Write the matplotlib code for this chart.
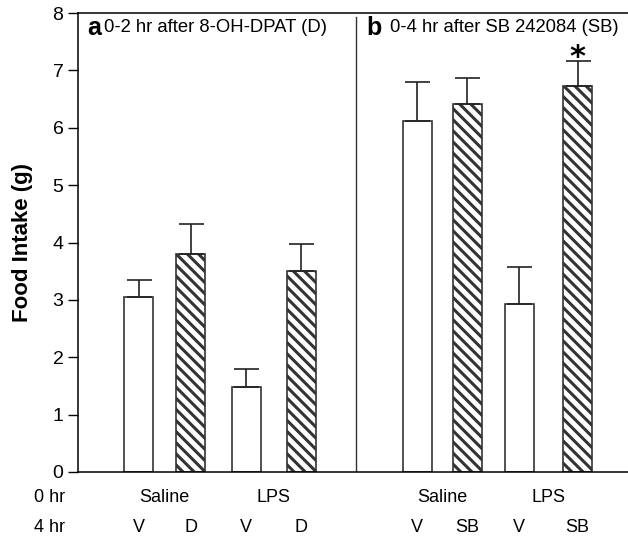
import matplotlib
matplotlib.use("Agg")
import matplotlib.pyplot as plt
import numpy as np

plt.rcParams['font.family'] = ['Liberation Sans', 'DejaVu Sans']
plt.rcParams['hatch.linewidth'] = 2.2
plt.rcParams['hatch.color'] = 'black'

# ---- data ----
panel_a_means = [3.05, 3.80, 1.49, 3.51]
panel_a_sems = [0.30, 0.53, 0.30, 0.46]
panel_b_means = [6.12, 6.42, 2.92, 6.72]
panel_b_sems = [0.68, 0.45, 0.66, 0.44]
treat_a = ['V', 'D', 'V', 'D']
treat_b = ['V', 'SB', 'V', 'SB']
hatched = [False, True, False, True]
groups = ['Saline', 'LPS']
yticks = [0, 1, 2, 3, 4, 5, 6, 7, 8]

W, H = 628, 544
fig = plt.figure(figsize=(W / 100, H / 100), dpi=100)
ax = fig.add_axes([78 / W, (H - 472) / H, 1 - 78 / W, (472 - 13) / H])

# layout (x in axis units ~ pixels from left spine)
pos_a = np.array([138.5, 190.5, 246, 301]) - 78
pos_b = np.array([417, 467, 519, 577.5]) - 78
width = 29
divider = 356 - 78

for pos, means, sems in [(pos_a, panel_a_means, panel_a_sems),
                         (pos_b, panel_b_means, panel_b_sems)]:
    for x, m, s, h in zip(pos, means, sems, hatched):
        ax.bar(x, m, width=width, facecolor='white', edgecolor='#333333',
               linewidth=1.2, hatch='\\\\\\' if h else None, zorder=2)
        ax.errorbar(x, m, yerr=[[0], [s]], fmt='none', ecolor='#222222',
                    elinewidth=1.2, capsize=9, capthick=1.2, zorder=3)

ax.set_xlim(0, W - 78)
ax.set_ylim(0, 8)
ax.set_yticks(yticks)
ax.set_xticks([])
ax.tick_params(axis='y', direction='out', length=7.5, width=1, labelsize=14, pad=3)
for sp in ['left', 'top', 'bottom']:
    ax.spines[sp].set_linewidth(1.1)
ax.spines['right'].set_visible(False)
ax.set_ylabel('Food Intake (g)', fontsize=16, fontweight='bold', labelpad=14)

ax.plot([divider, divider], [0.02, 7.93], color='#333333', lw=1, zorder=1)

# panel titles
ty = 8 - (28 - 13) / 57.4
ax.text(87 - 78, ty, 'a', fontsize=18, fontweight='bold', va='center', ha='left')
ax.text(104 - 78, ty, '0-2 hr after 8-OH-DPAT (D)', fontsize=13.3, va='center', ha='left')
ax.text(366 - 78, ty, 'b', fontsize=18, fontweight='bold', va='center', ha='left')
ax.text(390 - 78, ty, '0-4 hr after SB 242084 (SB)', fontsize=13.3, va='center', ha='left')

# significance
ax.text(pos_b[3], panel_b_means[3] + panel_b_sems[3] - 0.08, '*', fontsize=22,
        fontweight='bold', family='DejaVu Sans', ha='center', va='baseline')

# category labels below
trans = ax.get_xaxis_transform()
y0 = -(497 - 472) / (472 - 13)
y4 = -(528 - 472) / (472 - 13)
ax.text(50 - 78, y0, '0 hr', transform=trans, ha='center', va='center', fontsize=13)
ax.text(50 - 78, y4, '4 hr', transform=trans, ha='center', va='center', fontsize=13)
for pos in (pos_a, pos_b):
    for gi, g in enumerate(groups):
        cx = (pos[2 * gi] + pos[2 * gi + 1]) / 2
        ax.text(cx, y0, g, transform=trans, ha='center', va='center', fontsize=13)
for pos, tr in [(pos_a, treat_a), (pos_b, treat_b)]:
    for x, t in zip(pos, tr):
        ax.text(x, y4, t, transform=trans, ha='center', va='center', fontsize=13)

fig.savefig('out.png', dpi=100)
